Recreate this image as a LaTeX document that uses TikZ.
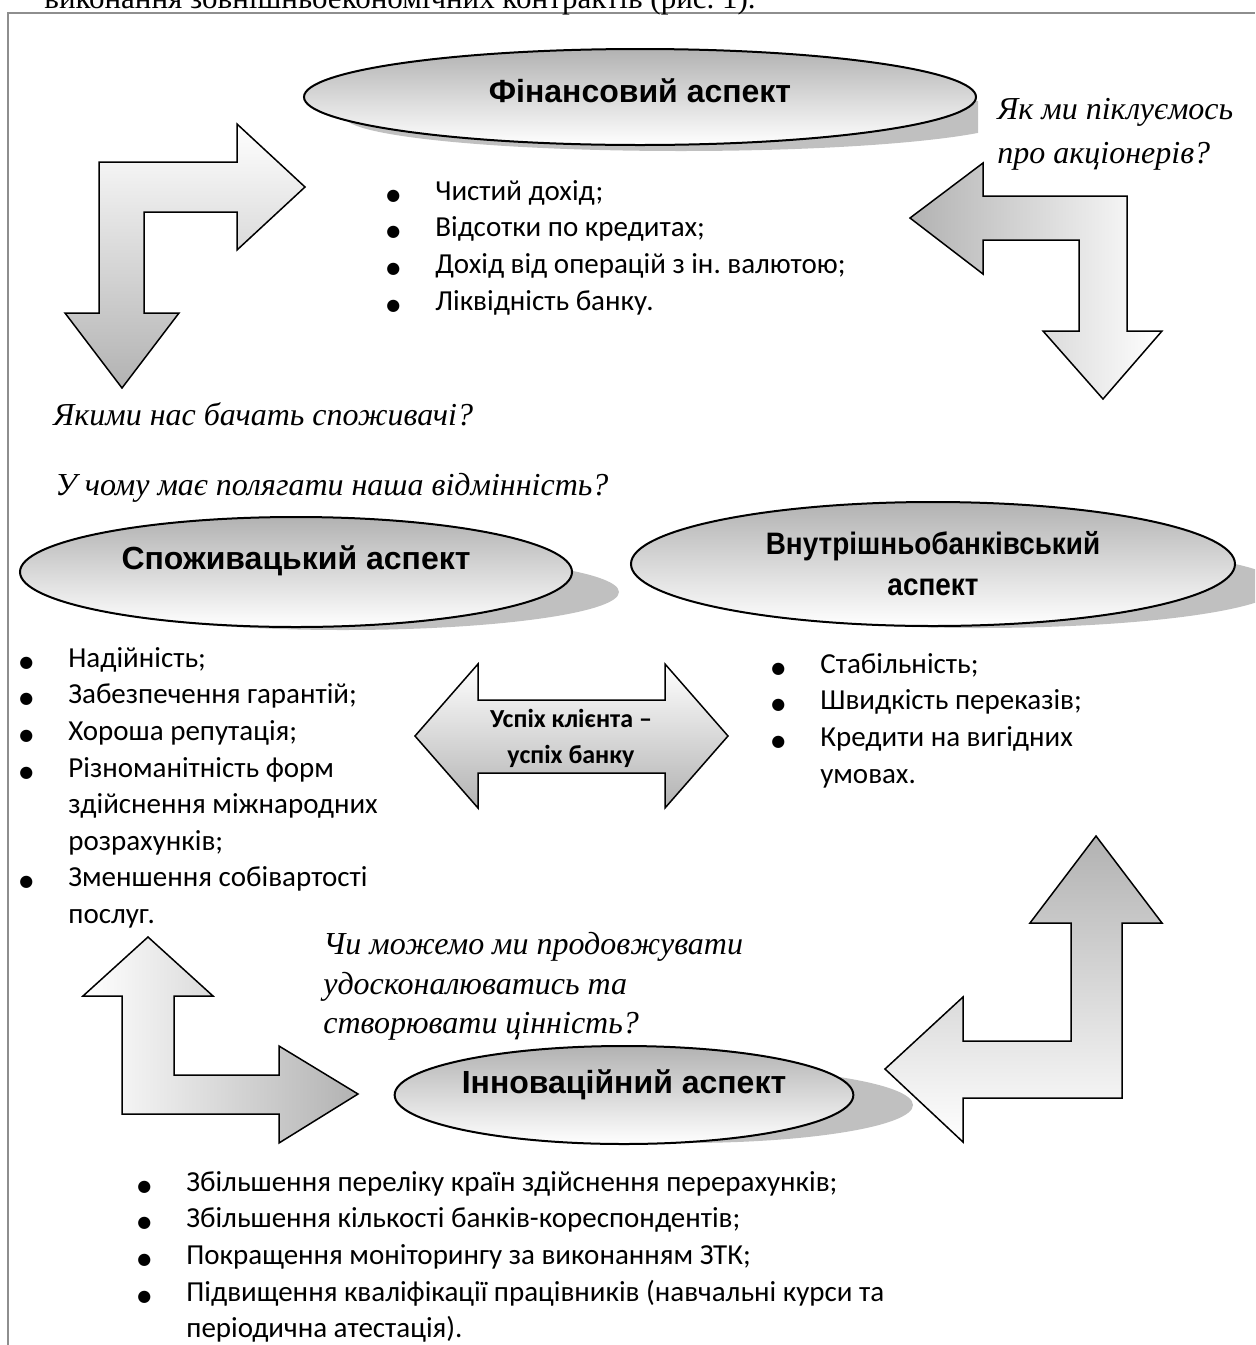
\documentclass[tikz,border=0pt]{standalone}
\usepackage{fontspec}
\setmainfont{Carlito}
\newfontfamily\headfont{Liberation Sans}
\newfontfamily\narrowfont[FakeStretch=0.9]{Liberation Sans}
\newfontfamily\quesfont{Liberation Serif}
\newfontfamily\dotfont{DejaVu Sans}
\usepackage{xcolor}
\usepackage{tikz}
\usetikzlibrary{shapes.geometric, positioning}
\definecolor{agray}{HTML}{B2B2B2}
\definecolor{sgray}{HTML}{C0C0C0}
\definecolor{fgray}{HTML}{8E8E8E}
\newcommand{\bul}{\makebox[24pt][l]{\hspace{-0.5pt}{\dotfont\fontsize{8}{8}\selectfont ●}}}
\newcommand{\ind}{\hspace*{24pt}}
\frenchspacing

\begin{document}
\begin{tikzpicture}[x=0.5pt, y=-0.5pt,
  aspect/.style={ellipse, draw=black, line width=1pt, top color=agray, bottom color=white, inner sep=0pt, align=center, font=\headfont\bfseries\fontsize{16}{20.5}\selectfont},
  halo/.style={fill=sgray},
  bent/.style={draw=black, line width=0.75pt, line join=miter},
  quest/.style={font=\quesfont\itshape\fontsize{16}{19.75}\selectfont, inner sep=0pt, align=left},
  items/.style={font=\fontsize{14.5}{18.3}\selectfont, inner sep=0pt, align=left, anchor=north west}]
\useasboundingbox (0,0) rectangle (1255,1345);
\clip (0,0) rectangle (1255,1345);
\draw[fgray, line width=1pt] (8,1345) -- (8,13) -- (1255,13);
\node[anchor=base west, inner sep=0pt, font=\quesfont\fontsize{15.5}{18}\selectfont] (caption) at (44,8) {виконання зовнішньоекономічних контрактів (рис. 1).};

\begin{scope}
\clip (0,0) rectangle (978,300);
\fill[halo] (681,117) ellipse [x radius=336, y radius=34];
\end{scope}
\node[aspect, text depth=6pt, minimum width=336pt, minimum height=48pt] (fin) at (640,97) {Фінансовий аспект};
\fill[halo] (343,592) ellipse [x radius=276, y radius=38];
\node[aspect, text depth=14pt, minimum width=276pt, minimum height=55pt] (spoz) at (296,572) {Споживацький аспект};
\fill[halo] (978,586) ellipse [x radius=302, y radius=42];
\node[aspect, font=\narrowfont\bfseries\fontsize{15.5}{20.5}\selectfont, minimum width=302pt, minimum height=62pt] (vnutr) at (933,564) {Внутрішньобанківський\\аспект};
\fill[halo] (685,1105) ellipse [x radius=228, y radius=38];
\node[aspect, text depth=13pt, minimum width=228pt, minimum height=49pt] (innov) at (624,1095) {Інноваційний аспект};

\draw[bent, top color=white, bottom color=agray] (99,162) -- (237,162) -- (237,124) -- (305,187) -- (237,250) -- (237,212) -- (144,212) -- (144,313) -- (179,313) -- (122,388) -- (65,313) -- (99,313) -- cycle;
\draw[bent, left color=agray, right color=white] (910,218) -- (983,163) -- (983,196) -- (1127,196) -- (1127,331) -- (1162,331) -- (1103,399) -- (1043,331) -- (1079,331) -- (1079,240) -- (983,240) -- (983,274) -- cycle;
\draw[bent, top color=white, bottom color=agray] (415,736) -- (478,664) -- (478,700) -- (665,700) -- (665,664) -- (728,736) -- (665,808) -- (665,773) -- (478,773) -- (478,808) -- cycle;
\node[font=\bfseries\fontsize{13}{18}\selectfont, align=center, inner sep=0pt] (success) at (571,738) {Успіх клієнта –\\успіх банку};
\draw[bent, left color=white, right color=agray] (148,937) -- (213,996) -- (174,996) -- (174,1075) -- (279,1075) -- (279,1046) -- (358,1094) -- (279,1143) -- (279,1114) -- (122,1114) -- (122,996) -- (83,996) -- cycle;
\draw[bent, top color=agray, bottom color=white] (1096,836) -- (1162,923) -- (1122,923) -- (1122,1098) -- (963,1098) -- (963,1142) -- (885,1069) -- (963,997) -- (963,1041) -- (1071,1041) -- (1071,923) -- (1030,923) -- cycle;

\node[items] (finlist) at (387,180) {\bul Чистий дохід;\\ \bul Відсотки по кредитах;\\ \bul Дохід від операцій з ін. валютою;\\ \bul Ліквідність банку.};
\node[items] (spozlist) at (20,647) {\bul Надійність;\\ \bul Забезпечення гарантій;\\ \bul Хороша репутація;\\ \bul Різноманітність форм\\ \ind здійснення міжнародних\\ \ind розрахунків;\\ \bul Зменшення собівартості\\ \ind послуг.};
\node[items] (vnutrlist) at (772,653) {\bul Стабільність;\\ \bul Швидкість переказів;\\ \bul Кредити на вигідних\\ \ind умовах.};
\node[items] (innovlist) at (138,1171) {\bul Збільшення переліку країн здійснення перерахунків;\\ \bul Збільшення кількості банків-кореспондентів;\\ \bul Покращення моніторингу за виконанням ЗТК;\\ \bul Підвищення кваліфікації працівників (навчальні курси та\\ \ind періодична атестація).};

\node[quest, anchor=north west, font=\quesfont\itshape\fontsize{16}{22}\selectfont] (qfin) at (997,98) {Як ми піклуємось\\про акціонерів?};
\node[quest, anchor=base west] (qspoz) at (53,425) {Якими нас бачать споживачі?};
\node[quest, anchor=base west] (qvnutr) at (55,495) {У чому має полягати наша відмінність?};
\node[quest, anchor=north west] (qinnov) at (323,932) {Чи можемо ми продовжувати\\удосконалюватись та\\створювати цінність?};
\end{tikzpicture}
\end{document}
